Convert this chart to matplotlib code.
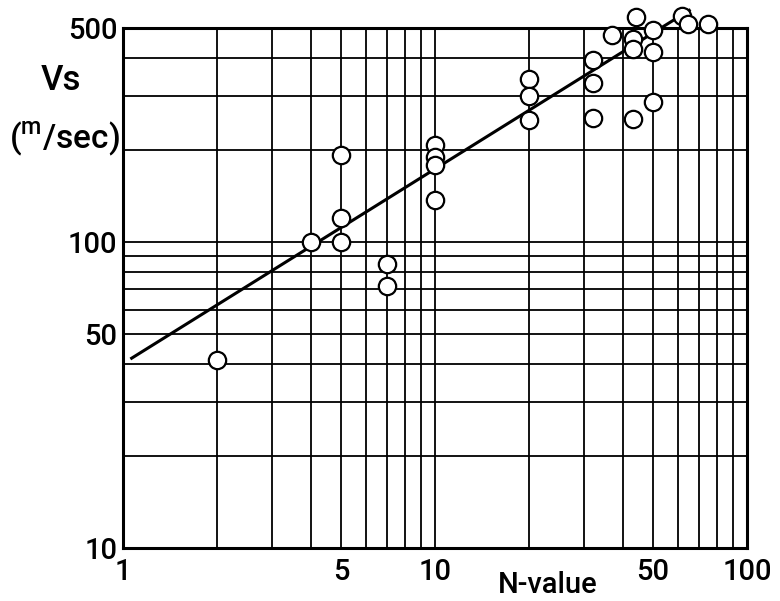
import matplotlib
matplotlib.use("Agg")
import matplotlib.pyplot as plt
from matplotlib.ticker import NullLocator

plt.rcParams['font.family'] = ['Roboto', 'DejaVu Sans']
plt.rcParams['font.weight'] = 'medium'
plt.rcParams['mathtext.fontset'] = 'custom'
plt.rcParams['mathtext.rm'] = 'Roboto:medium'

# N-value vs shear wave velocity (m/sec)
n_value = [2, 4, 5, 5, 5, 7, 7, 10, 10, 10, 10, 20, 20, 20,
           32, 32, 32, 37, 44, 43, 43, 43, 50, 50, 50, 62, 64.5, 75]
vs = [41, 100, 193, 120, 100, 85, 72, 208, 190, 178, 137, 340, 300, 250,
      392, 331, 254, 475, 545, 459, 428, 253, 492, 418, 287, 547, 514, 514]

# regression line end points
fit_n = [1.066, 65.3]
fit_vs = [41.7, 571]

x_ticks = [1, 5, 10, 50, 100]
y_ticks = [10, 50, 100, 500]
x_grid = [2, 3, 4, 5, 6, 7, 8, 9, 10, 20, 30, 40, 50, 60, 70, 80, 90]
y_grid = [20, 30, 40, 50, 60, 70, 80, 90, 100, 200, 300, 400]

fig = plt.figure(figsize=(7.8, 6.01), dpi=100)
ax = fig.add_axes([123 / 780, 1 - 548 / 601, 624 / 780, 520 / 601])
ax.set_xscale('log')
ax.set_yscale('log')
ax.set_xlim(1, 100)
ax.set_ylim(10, 500)

for gx in x_grid:
    ax.axvline(gx, color='black', lw=1.3, zorder=1)
for gy in y_grid:
    ax.axhline(gy, color='black', lw=1.3, zorder=1)

ax.plot(fit_n, fit_vs, color='black', lw=2.2, zorder=3, clip_on=False)
ax.plot(n_value, vs, 'o', ms=12.5, mfc='white', mec='black', mew=1.6,
        zorder=4, clip_on=False, linestyle='none')

ax.xaxis.set_minor_locator(NullLocator())
ax.yaxis.set_minor_locator(NullLocator())
ax.set_xticks(x_ticks)
ax.set_xticklabels([str(t) for t in x_ticks])
ax.set_yticks(y_ticks)
ax.set_yticklabels([str(t) for t in y_ticks])
ax.tick_params(length=0, labelsize=21, pad=7)
ax.tick_params(axis='y', pad=4)

for s in ax.spines.values():
    s.set_linewidth(2.2)

fig.text(548 / 780, 1 - 593 / 601, 'N-value', fontsize=21,
         ha='center', va='baseline')
fig.text(61 / 780, 1 - 80 / 601, 'Vs', fontsize=25, ha='center', va='center')
fig.text(64 / 780, 1 - 139 / 601, r'($^{\mathrm{m}}$/sec)', fontsize=24,
         ha='center', va='center')

fig.savefig('out.png', dpi=100)
